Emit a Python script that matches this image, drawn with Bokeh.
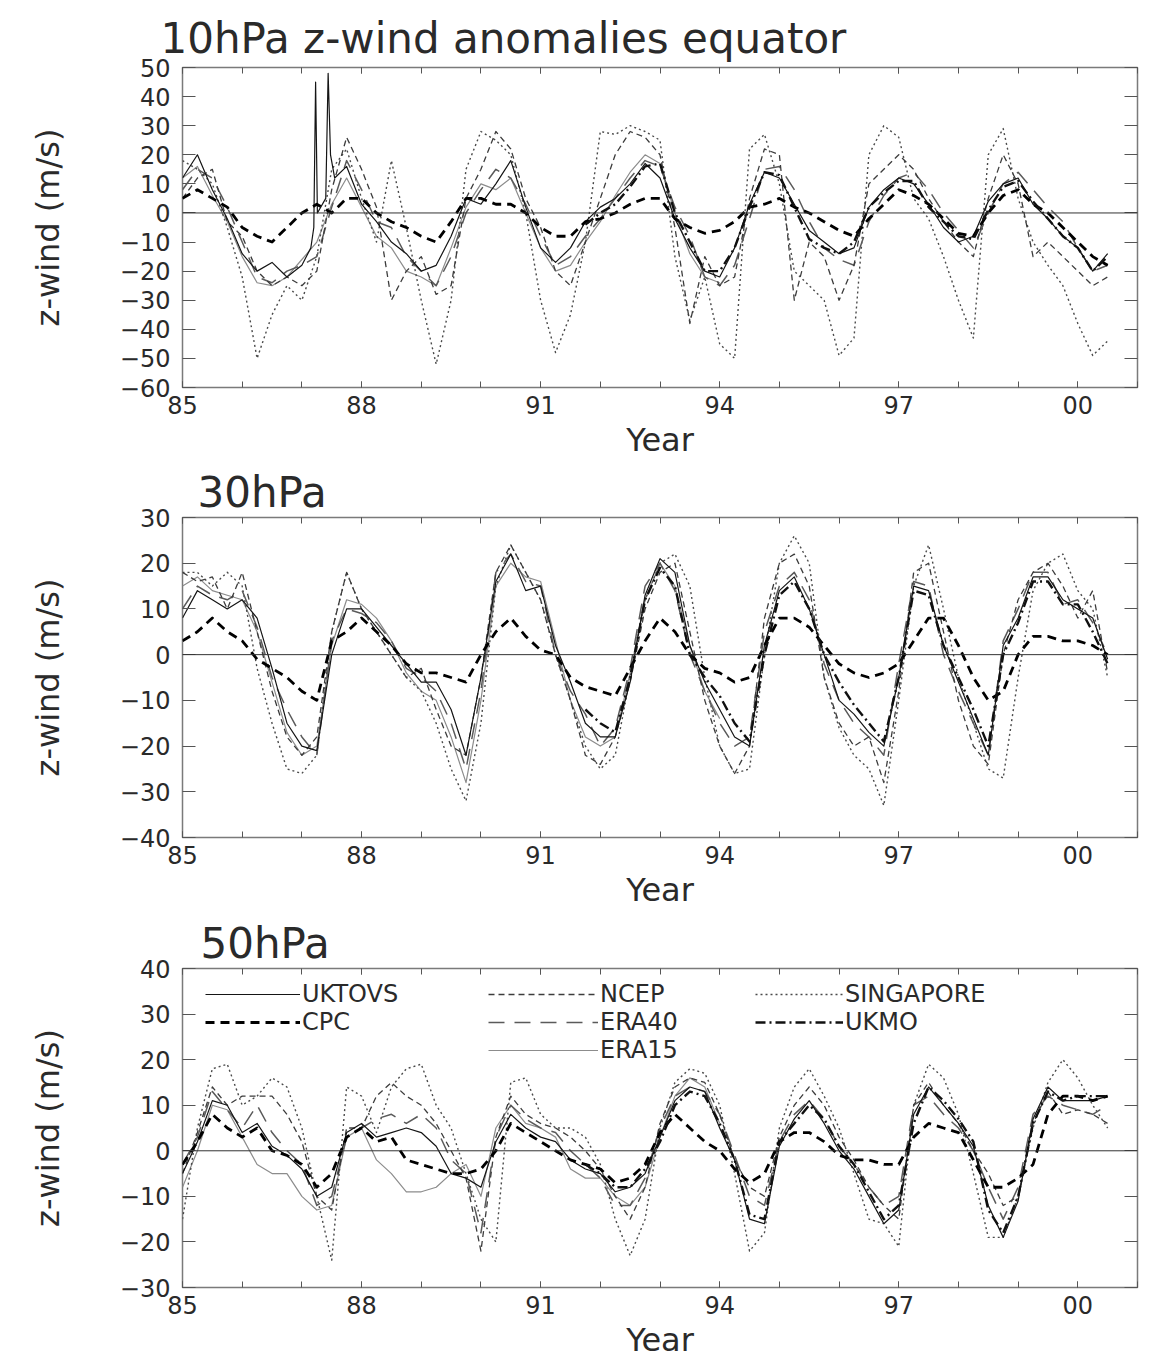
from bokeh.plotting import figure
from bokeh.models import (Range1d, FixedTicker, LinearAxis, Span, Legend, LegendItem,
                          CustomJSTickFormatter)
from bokeh.layouts import column
from bokeh.embed import file_html
from bokeh.resources import INLINE

FONT = "DejaVu Sans"
TXT = "#2a2a2a"

# ---------------- data ----------------
YEARS_Q = [85.0, 85.25, 85.5, 85.75, 86.0, 86.25, 86.5, 86.75, 87.0, 87.25, 87.5, 87.75,
           88.0, 88.25, 88.5, 88.75, 89.0, 89.25, 89.5, 89.75, 90.0, 90.25, 90.5, 90.75,
           91.0, 91.25, 91.5, 91.75, 92.0, 92.25, 92.5, 92.75, 93.0, 93.25, 93.5, 93.75,
           94.0, 94.25, 94.5, 94.75, 95.0, 95.25, 95.5, 95.75, 96.0, 96.25, 96.5, 96.75,
           97.0, 97.25, 97.5, 97.75, 98.0, 98.25, 98.5, 98.75, 99.0, 99.25, 99.5, 99.75,
           100.0, 100.25, 100.5]
YEARS_ERA15 = YEARS_Q[:37]      # 85.0 - 94.0
YEARS_UKMO = YEARS_Q[27:]       # 91.75 - 100.5
SPIKE_YEARS = [87.15, 87.2, 87.23, 87.26, 87.4, 87.44, 87.48, 87.55]
YEARS_UKTOVS10 = YEARS_Q[:9] + SPIKE_YEARS + YEARS_Q[11:]

X_TICKS = [85, 88, 91, 94, 97, 100]
X_TICK_LABELS = ["85", "88", "91", "94", "97", "00"]
X_MINOR = [85, 86, 87, 88, 89, 90, 91, 92, 93, 94, 95, 96, 97, 98, 99, 100, 101]

Y10_TICKS = [-60, -50, -40, -30, -20, -10, 0, 10, 20, 30, 40, 50]
Y30_TICKS = [-40, -30, -20, -10, 0, 10, 20, 30]
Y50_TICKS = [-30, -20, -10, 0, 10, 20, 30, 40]

SERIES = ["UKTOVS", "NCEP", "SINGAPORE", "CPC", "ERA40", "UKMO", "ERA15"]

# ---- 10 hPa ----
U10_UKTOVS = [12, 20, 8, -2, -14, -20, -17, -22, -18,
              -12, -5, 45, 0, 5, 48, 20, 12,
              16, 3, -3, -10, -14, -20, -18, -8, 5, 3, 10, 18, 2, -12, -17, -12, -3,
              2, 5, 10, 17, 12, -2, -12, -20, -22, -12, 3, 14, 12, 3, -6, -10,
              -14, -12, 2, 8, 12, 10, 3, -5, -10, -8, 4, 10, 12, 3, -2, -8, -12, -20, -14]
U10_NCEP = [5, 12, 15, -3, -8, -20, -25, -22, -25, -20, 8, 26, 15, 2, -30, -20,
            -15, -28, -25, 5, 15, 28, 22, 5, -5, -20, -25, -10, 5, 20, 28, 26,
            20, -5, -38, -15, -25, -22, 5, 22, 20, -30, -10, -15, -30, -18, 10, 15,
            20, 15, 5, -3, -10, -15, 5, 20, 10, -15, -10, -15, -20, -25, -22]
U10_SING = [18, 15, 10, -5, -22, -50, -35, -25, -30, -15, 15, 22, 5, -10, 18, -5,
            -30, -52, -30, 15, 28, 25, 20, 0, -30, -48, -35, -10, 28, 27, 30, 28,
            25, -15, -37, -22, -45, -50, 22, 27, 10, -20, -25, -30, -49, -43, 20, 30,
            26, 5, -2, -15, -30, -43, 20, 29, 5, -10, -18, -25, -38, -49, -44]
U10_CPC = [5, 8, 5, 2, -5, -8, -10, -5, 0, 3, 0, 5, 5, 0, -3, -5,
           -8, -10, -3, 5, 5, 3, 3, 0, -5, -8, -8, -3, -2, 0, 3, 5,
           5, -2, -5, -7, -6, -3, 2, 3, 5, 2, 0, -3, -6, -8, -2, 3,
           8, 6, 3, -2, -7, -8, 0, 6, 8, 3, 0, -5, -10, -15, -18]
U10_ERA40 = [8, 15, 12, 2, -10, -22, -24, -20, -18, -15, 2, 18, 8, -3, -5, -15,
             -20, -25, -15, 0, 8, 15, 12, 3, -8, -18, -15, -8, -2, 5, 12, 18,
             16, 2, -8, -22, -25, -18, -2, 15, 16, 8, -3, -12, -16, -18, -3, 6,
             12, 14, 8, 0, -6, -12, 0, 10, 14, 8, 2, -3, -12, -20, -18]
U10_UKMO = [-4, 0, 3, 9, 16, 17, 0, -10, -20, -20, -12, 2, 14, 13, 2, -9, -12,
            -14, -10, 2, 7, 11, 11, 2, -3, -8, -9, 1, 9, 11, 4, -2, -8, -12, -20, -15]
U10_ERA15 = [12, 16, 6, -3, -15, -24, -25, -22, -16, -10, 3, 12, 2, -8, -12, -20,
             -22, -25, -12, 2, 10, 8, 12, 0, -12, -20, -18, -10, -3, 6, 14, 20,
             17, 0, -14, -22, -24]

# ---- 30 hPa ----
U30_UKTOVS = [8, 14, 12, 10, 12, 8, -3, -15, -20, -21, 0, 10, 10, 6, 2, -2,
              -6, -6, -12, -22, -5, 16, 22, 14, 15, 2, -6, -15, -18, -18, -6, 13,
              21, 18, 2, -6, -12, -18, -20, 2, 14, 17, 10, 0, -10, -13, -17, -20,
              -5, 15, 14, 2, -6, -14, -22, 2, 8, 17, 17, 12, 10, 8, -1]
U30_NCEP = [18, 16, 17, 10, 18, 5, -8, -18, -22, -18, 5, 18, 10, 5, 0, -5,
            -3, -12, -20, -22, -5, 18, 24, 18, 12, 0, -10, -22, -24, -18, -6, 10,
            18, 20, 5, -10, -20, -26, -20, 8, 20, 22, 15, -5, -15, -20, -18, -28,
            -8, 18, 20, 5, -10, -20, -24, 0, 12, 18, 20, 15, 8, 14, -4]
U30_SING = [18, 18, 15, 18, 15, -3, -15, -25, -26, -22, 5, 18, 10, 5, 0, -5,
            -8, -15, -25, -32, -15, 15, 24, 18, 12, 0, -10, -20, -25, -22, -5, 12,
            20, 22, 15, -5, -20, -26, -25, 0, 20, 26, 20, -5, -16, -22, -25, -33,
            -10, 15, 24, 10, -5, -15, -25, -27, -5, 14, 20, 22, 14, 10, -5]
U30_CPC = [3, 5, 8, 5, 3, -1, -3, -5, -8, -10, 3, 5, 8, 5, 2, -2,
           -4, -4, -5, -6, 0, 5, 8, 4, 1, 0, -5, -7, -8, -9, -3, 3,
           8, 5, 0, -3, -4, -6, -5, 2, 8, 8, 6, 2, -2, -4, -5, -4,
           -2, 3, 8, 8, 2, -5, -10, -8, 0, 4, 4, 3, 3, 2, 0]
U30_ERA40 = [10, 15, 13, 12, 14, 6, -5, -12, -18, -22, 3, 10, 9, 7, 3, -3,
             -5, -8, -15, -25, -8, 18, 22, 16, 15, 0, -8, -13, -20, -16, -3, 15,
             20, 14, 0, -8, -15, -20, -18, 5, 15, 18, 12, -2, -10, -15, -18, -22,
             -2, 16, 15, 0, -8, -15, -22, 3, 10, 18, 18, 11, 12, 7, 0]
U30_UKMO = [-12, -15, -17, -5, 12, 19, 15, 0, -5, -9, -15, -19, 0, 13, 16, 10, 0,
            -6, -11, -15, -19, -5, 14, 13, 2, -5, -12, -20, 0, 7, 16, 16, 11, 11, 5, -2]
U30_ERA15 = [15, 17, 14, 13, 12, 5, -6, -17, -22, -20, 2, 12, 11, 8, 3, -4,
             -8, -10, -18, -28, -10, 15, 20, 17, 16, 3, -10, -18, -20, -18, -4, 12,
             20, 15, 2, -8, -14]

# ---- 50 hPa ----
U50_UKTOVS = [-5, 2, 11, 10, 4, 6, 1, -1, -4, -10, -8, 4, 6, 3, 4, 5,
              4, 1, -5, -6, -8, 2, 8, 5, 3, 2, -2, -4, -5, -9, -8, -5,
              3, 11, 14, 13, 5, -2, -15, -16, 1, 7, 11, 6, 0, -4, -10, -16,
              -13, 8, 14, 10, 6, 1, -12, -19, -11, 7, 14, 11, 11, 11, 12]
U50_NCEP = [-5, 4, 14, 10, 12, 12, 12, 8, 2, -10, -13, 5, 5, 12, 15, 12,
            10, 6, 0, -6, -22, 3, 12, 8, 6, 5, 3, 0, -4, -10, -15, -8,
            6, 14, 16, 15, 8, -2, -8, -10, 3, 10, 14, 10, 3, -2, -8, -12,
            -15, 10, 15, 10, 6, 0, -5, -12, -10, 6, 13, 8, 9, 8, 6]
U50_SING = [-15, 5, 18, 19, 10, 12, 16, 14, 5, -10, -24, 14, 12, 4, 14, 18,
            19, 10, 5, -5, -15, -20, 15, 16, 8, 5, 5, 3, -3, -15, -23, -15,
            5, 15, 18, 17, 10, -5, -22, -18, 5, 14, 18, 12, 5, -5, -15, -16,
            -21, 10, 19, 16, 8, -5, -19, -19, -10, 5, 15, 20, 16, 10, 5]
U50_CPC = [-3, 2, 8, 5, 3, 5, 0, -1, -3, -8, -5, 3, 5, 2, 3, -2,
           -3, -4, -5, -5, -4, 0, 6, 4, 2, 0, -2, -3, -4, -7, -6, -3,
           4, 8, 5, 2, 0, -4, -7, -5, 2, 4, 4, 2, -1, -2, -2, -3,
           -3, 3, 6, 5, 4, -2, -8, -8, -6, -3, 8, 12, 12, 11, 12]
U50_ERA40 = [-3, 3, 13, 9, 5, 10, 4, 0, -3, -12, -10, 3, 5, 7, 8, 6,
             8, 5, -2, -5, -18, 3, 10, 7, 5, 4, 0, -3, -6, -12, -12, -6,
             5, 12, 14, 13, 8, -1, -10, -12, 2, 8, 11, 7, 1, -3, -8, -12,
             -10, 10, 12, 8, 5, 0, -8, -15, -8, 8, 12, 10, 9, 8, 10]
U50_UKMO = [-3, -5, -8, -8, -4, 2, 10, 13, 12, 6, -2, -14, -15, 2, 6, 10, 7,
            1, -3, -9, -15, -12, 6, 14, 11, 7, 2, -13, -18, -10, 6, 13, 11, 12, 12, 12]
U50_ERA15 = [-8, 0, 10, 9, 3, -3, -5, -5, -10, -13, -12, 3, 5, -2, -5, -9,
             -9, -8, -5, -3, -10, 5, 10, 6, 5, 3, -4, -6, -6, -10, -12, -8,
             3, 12, 16, 14, 6]

# ---------------- styles ----------------
STYLE = {
    "UKTOVS":    dict(color="#151515", width=1.2, dash="solid"),
    "NCEP":      dict(color="#3c3c3c", width=1.3, dash="6 4"),
    "SINGAPORE": dict(color="#4a4a4a", width=1.4, dash="2 3"),
    "CPC":       dict(color="#000000", width=2.8, dash="9 6"),
    "ERA40":     dict(color="#5a5a5a", width=1.5, dash="16 10"),
    "UKMO":      dict(color="#101010", width=2.4, dash="10 4 2 4"),
    "ERA15":     dict(color="#8c8c8c", width=1.2, dash="solid"),
}
DRAW_ORDER = ["ERA15", "SINGAPORE", "ERA40", "NCEP", "UKTOVS", "CPC", "UKMO"]


def style_x(ax, labels=True):
    ax.ticker = FixedTicker(ticks=X_TICKS, minor_ticks=X_MINOR)
    ax.axis_line_color = None
    ax.major_tick_in = 6
    ax.major_tick_out = 0
    ax.minor_tick_in = 6
    ax.minor_tick_out = 0
    ax.major_tick_line_color = "#555555"
    ax.minor_tick_line_color = "#555555"
    if labels:
        ax.major_label_overrides = {t: s for t, s in zip(X_TICKS, X_TICK_LABELS)}
        ax.major_label_text_font = FONT
        ax.major_label_text_font_size = "24px"
        ax.major_label_text_color = TXT
        ax.major_label_standoff = 8
    else:
        ax.formatter = CustomJSTickFormatter(code="return ''")
        ax.major_label_text_font_size = "0px"
        ax.major_label_standoff = 0


def style_y(ax, ticks, labels=True):
    ax.ticker = FixedTicker(ticks=ticks, minor_ticks=[])
    ax.axis_line_color = None
    ax.major_tick_in = 13
    ax.major_tick_out = 0
    ax.minor_tick_in = 0
    ax.minor_tick_out = 0
    ax.major_tick_line_color = "#555555"
    if labels:
        ax.major_label_text_font = FONT
        ax.major_label_text_font_size = "24px"
        ax.major_label_text_color = TXT
        ax.major_label_standoff = 12
    else:
        ax.formatter = CustomJSTickFormatter(code="return ''")
        ax.major_label_text_font_size = "0px"
        ax.major_label_standoff = 0


def make_panel(title, title_offset, title_standoff, y_lo, y_hi, y_ticks, data,
               height, border_top):
    p = figure(width=1143, height=height,
               x_range=Range1d(85, 101), y_range=Range1d(y_lo, y_hi),
               output_backend="svg", toolbar_location=None,
               min_border_left=182, min_border_right=6,
               min_border_top=border_top, min_border_bottom=77,
               background_fill_color="white", border_fill_color="white")
    p.xgrid.visible = False
    p.ygrid.visible = False
    p.outline_line_color = "#7a7a7a"
    p.outline_line_width = 1.5

    p.title.text = title
    p.title.text_font = FONT
    p.title.text_font_size = "42px"
    p.title.text_font_style = "normal"
    p.title.text_color = TXT
    p.title.align = "left"
    p.title.offset = title_offset
    p.title.standoff = title_standoff

    xa = p.xaxis[0]
    style_x(xa)
    xa.axis_label = "Year"
    xa.axis_label_text_font = FONT
    xa.axis_label_text_font_size = "32px"
    xa.axis_label_text_font_style = "normal"
    xa.axis_label_text_color = TXT
    xa.axis_label_standoff = 4

    ya = p.yaxis[0]
    style_y(ya, y_ticks)
    ya.axis_label = "z-wind (m/s)"
    ya.axis_label_text_font = FONT
    ya.axis_label_text_font_size = "32px"
    ya.axis_label_text_font_style = "normal"
    ya.axis_label_text_color = TXT
    ya.axis_label_standoff = 50

    top = LinearAxis()
    style_x(top, labels=False)
    p.add_layout(top, "above")
    right = LinearAxis()
    style_y(right, y_ticks, labels=False)
    p.add_layout(right, "right")

    p.add_layout(Span(location=0, dimension="width", line_color="#333333", line_width=1))

    renderers = {}
    for name in DRAW_ORDER:
        if name not in data:
            continue
        xs, ys = data[name]
        assert len(xs) == len(ys), (title, name, len(xs), len(ys))
        st = STYLE[name]
        renderers[name] = p.line(xs, ys, line_color=st["color"], line_width=st["width"],
                                 line_dash=st["dash"], line_join="round")
    return p, renderers


p1, r1 = make_panel("10hPa z-wind anomalies equator", -22, 10, -60, 50, Y10_TICKS, {
    "UKTOVS": (YEARS_UKTOVS10, U10_UKTOVS), "NCEP": (YEARS_Q, U10_NCEP),
    "SINGAPORE": (YEARS_Q, U10_SING), "CPC": (YEARS_Q, U10_CPC),
    "ERA40": (YEARS_Q, U10_ERA40), "UKMO": (YEARS_UKMO, U10_UKMO),
    "ERA15": (YEARS_ERA15, U10_ERA15)}, 464, 67)

p2, r2 = make_panel("30hPa", 15, 2, -40, 30, Y30_TICKS, {
    "UKTOVS": (YEARS_Q, U30_UKTOVS), "NCEP": (YEARS_Q, U30_NCEP),
    "SINGAPORE": (YEARS_Q, U30_SING), "CPC": (YEARS_Q, U30_CPC),
    "ERA40": (YEARS_Q, U30_ERA40), "UKMO": (YEARS_UKMO, U30_UKMO),
    "ERA15": (YEARS_ERA15, U30_ERA15)}, 450, 53)

p3, r3 = make_panel("50hPa", 18, 2, -30, 40, Y50_TICKS, {
    "UKTOVS": (YEARS_Q, U50_UKTOVS), "NCEP": (YEARS_Q, U50_NCEP),
    "SINGAPORE": (YEARS_Q, U50_SING), "CPC": (YEARS_Q, U50_CPC),
    "ERA40": (YEARS_Q, U50_ERA40), "UKMO": (YEARS_UKMO, U50_UKMO),
    "ERA15": (YEARS_ERA15, U50_ERA15)}, 450, 54)

# legend (three columns) in the 50 hPa panel; location = bottom-left corner
LEGEND_COLS = [["UKTOVS", "CPC"], ["NCEP", "ERA40", "ERA15"], ["SINGAPORE", "UKMO"]]
LEGEND_X = [23, 306, 573]
LEGEND_Y = [251, 223, 251]
LEGEND_GLYPH_W = [95, 110, 88]
for names, lx, ly, gw in zip(LEGEND_COLS, LEGEND_X, LEGEND_Y, LEGEND_GLYPH_W):
    leg = Legend(items=[LegendItem(label=n, renderers=[r3[n]]) for n in names],
                 location=(lx, ly), orientation="vertical",
                 glyph_width=gw, glyph_height=20, label_standoff=2,
                 label_text_font=FONT, label_text_font_size="24px",
                 label_text_color=TXT, label_height=20,
                 spacing=0, padding=0, margin=0,
                 border_line_color=None, background_fill_alpha=0)
    p3.add_layout(leg)

layout = column(p1, p2, p3, spacing=0)
open("out.html", "w").write(file_html(layout, INLINE))
